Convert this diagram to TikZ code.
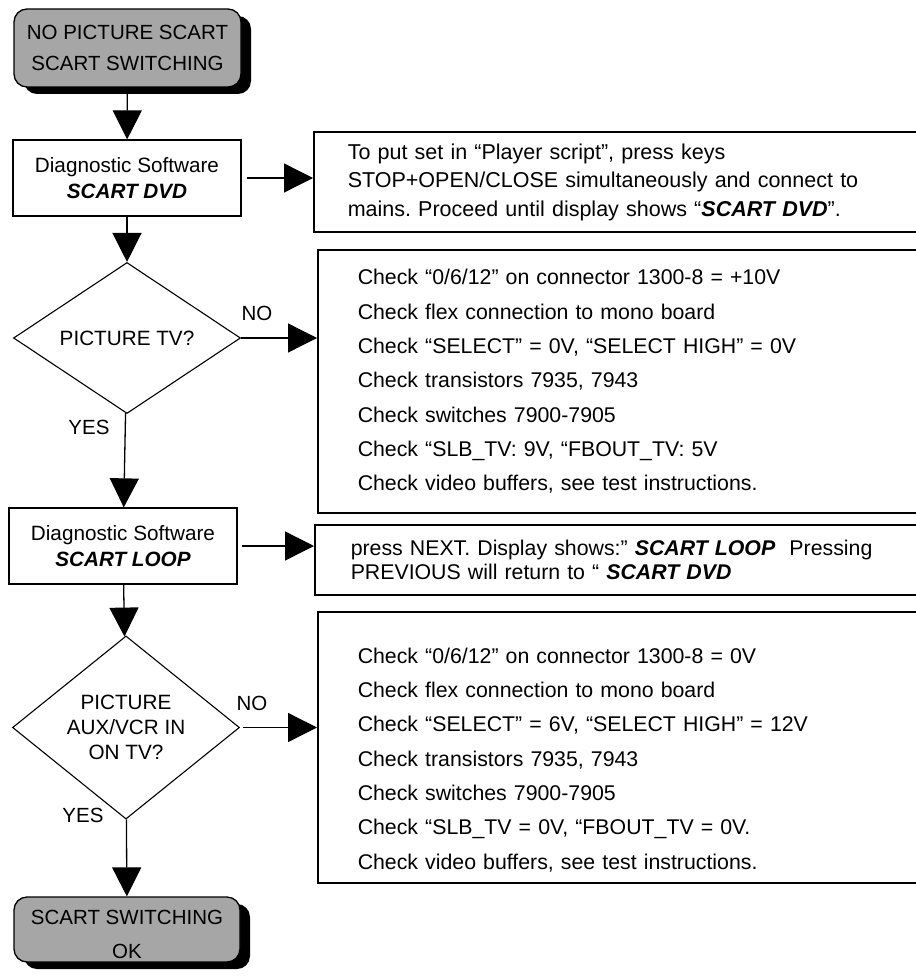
\documentclass[tikz,border=0pt]{standalone}
\usepackage{fontspec}
\setmainfont{Liberation Sans}
\frenchspacing
\usetikzlibrary{arrows.meta,shapes.geometric,shadows}
\definecolor{boxgray}{RGB}{166,166,166}
\begin{document}
\begin{tikzpicture}[x=1pt,y=-1pt,
  every node/.style={font=\fontsize{20.5}{24}\selectfont},
  term/.style={draw, line width=1.3pt, fill=boxgray, rounded corners=13pt, align=center, inner sep=0pt,
    drop shadow={shadow xshift=10pt, shadow yshift=-7pt, fill=black, opacity=1}},
  proc/.style={draw, line width=1.3pt, align=center, inner sep=0pt, minimum width=228pt, minimum height=76pt,
    font=\fontsize{20.7}{26}\selectfont},
  dec/.style={draw, diamond, line width=1.1pt, align=center, inner sep=0pt, minimum width=227pt, minimum height=151pt,
    font=\fontsize{20.7}{25}\selectfont},
  info/.style={draw, line width=1.5pt, align=left, anchor=west, text width=570pt, inner ysep=0pt},
  arr/.style={line width=1.3pt, -{Triangle[length=29pt,width=29pt]}},
  lbl/.style={inner sep=0pt}]
\useasboundingbox (0,0) rectangle (915,976);

% left column
\node[term, minimum width=227pt, minimum height=78pt, font=\fontsize{20.5}{31.5}\selectfont] (start) at (127.5,48)
  {NO PICTURE SCART\\SCART SWITCHING};
\node[proc] (diag1) at (127,178) {Diagnostic Software\\\textbf{\textit{SCART DVD}}};
\node[dec] (dec1) at (127,338) {PICTURE TV?};
\node[proc] (diag2) at (123,546) {Diagnostic Software\\\textbf{\textit{SCART LOOP}}};
\node[dec, minimum height=152pt] (dec2) at (126,727.5) {PICTURE\\AUX/VCR IN\\ON TV?};
\node[term, minimum width=226pt, minimum height=65pt, font=\fontsize{20.5}{34}\selectfont] (end) at (127,929.5)
  {\rule{0pt}{25pt}SCART SWITCHING\\OK};

% right column
\node[info, minimum height=100pt, inner xsep=34pt, font=\fontsize{21.5}{28.5}\selectfont] (box1) at (313,182)
  {To put set in “Player script”, press keys\\
   STOP+OPEN/CLOSE simultaneously and connect to\\
   mains. Proceed until display shows “\textbf{\textit{SCART DVD}}”.};
\node[info, minimum height=263pt, inner xsep=40pt, font=\fontsize{21.3}{34.3}\selectfont] (box2) at (317,381.5)
  {Check “0/6/12” on connector 1300-8 = +10V\\
   Check flex connection to mono board\\
   Check “SELECT” = 0V, “SELECT HIGH” = 0V\\
   Check transistors 7935, 7943\\
   Check switches 7900-7905\\
   Check “SLB\_TV: 9V, “FBOUT\_TV: 5V\\
   Check video buffers, see test instructions.};
\node[info, minimum height=70pt, inner xsep=36pt, font=\fontsize{21.3}{24}\selectfont] (box3) at (314,560)
  {press NEXT. Display shows:” \textbf{\textit{SCART LOOP}}\ \ Pressing\\
   PREVIOUS will return to “ \textbf{\textit{SCART DVD}}};
\node[info, minimum height=271pt, inner xsep=40pt, font=\fontsize{21.3}{34.3}\selectfont] (box4) at (317,747.5)
  {\rule{0pt}{40pt}Check “0/6/12” on connector 1300-8 = 0V\\
   Check flex connection to mono board\\
   Check “SELECT” = 6V, “SELECT HIGH” = 12V\\
   Check transistors 7935, 7943\\
   Check switches 7900-7905\\
   Check “SLB\_TV = 0V, “FBOUT\_TV = 0V.\\
   Check video buffers, see test instructions.};

% labels
\node[lbl] (no1) at (257,313) {NO};
\node[lbl] (no2) at (252,703) {NO};
\node[lbl] (yes1) at (89,427) {YES};
\node[lbl] (yes2) at (83,815) {YES};

% connectors
\draw[arr] (start) -- (diag1);
\draw[arr] (diag1) -- (dec1);
\draw[arr] (dec1) -- (diag2);
\draw[arr] (diag2) -- (dec2);
\draw[arr] (dec2) -- (end);
\draw[arr, shorten <=5pt] (diag1.east) -- (diag1.east -| box1.west);
\draw[arr] (dec1.east) -- (dec1.east -| box2.west);
\draw[arr, shorten <=4pt] (diag2.east) -- (diag2.east -| box3.west);
\draw[arr, shorten <=3pt] (dec2.east) -- (dec2.east -| box4.west);
\end{tikzpicture}
\end{document}
